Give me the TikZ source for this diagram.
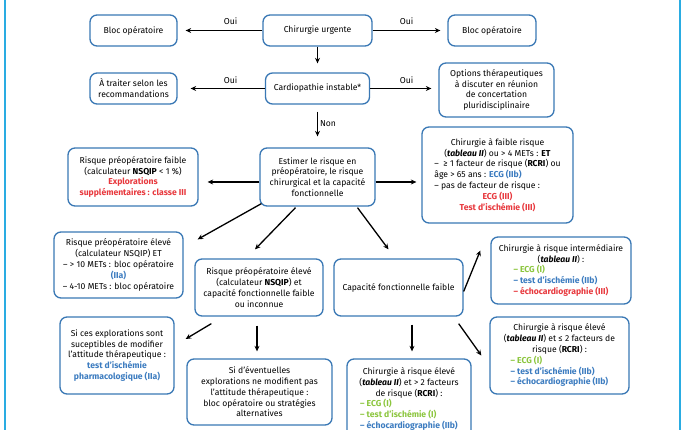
\documentclass[tikz,border=0pt]{standalone}
\usepackage{fontspec}
\setmainfont{Fira Sans}
\usetikzlibrary{arrows.meta,calc}
\definecolor{bord}{HTML}{3A78B5}
\definecolor{cyl}{HTML}{2AACE2}
\definecolor{rd}{HTML}{E8383D}
\definecolor{blu}{HTML}{3C7CC0}
\definecolor{grn}{HTML}{8CC63E}
\newcommand\redb[1]{\textcolor{rd}{\textbf{#1}}}
\newcommand\blub[1]{\textcolor{blu}{\textbf{#1}}}
\newcommand\grnb[1]{\textcolor{grn}{\textbf{#1}}}
\newlength\lw
\newcommand\setlw[1]{\settowidth\lw{#1}\global\lw=\lw}
\newcommand\LL[1]{\makebox[\lw][l]{#1}}
\tikzset{
  box/.style={draw=bord, line width=1.3pt, rounded corners=7pt, fill=white, align=center, inner sep=2pt, font=\fontsize{8.6}{10.8}\selectfont},
  arr/.style={-{Stealth[length=5.5pt,width=5pt]}, line width=1.3pt},
  lab/.style={font=\fontsize{8.6}{10}\selectfont, inner sep=0pt}
}
\begin{document}
\begin{tikzpicture}[x=1pt,y=-1pt]
\useasboundingbox (0,0) rectangle (686,430);
\clip (0,0) rectangle (686,430);
\fill[white] (0,0) rectangle (686,430);
\draw[cyl, line width=2.5pt] (5,0) -- (5,430);
\draw[cyl, line width=2.5pt] (680,0) -- (680,430);

\node[box, minimum width=87pt, minimum height=31pt] (bl1) at (133.5,30.5) {Bloc opératoire};
\node[box, minimum width=109pt, minimum height=31pt] (cu) at (317.5,30.5) {Chirurgie urgente};
\node[box, minimum width=88pt, minimum height=31pt] (bl2) at (492,30.5) {Bloc opératoire};
\node[box, minimum width=87pt, minimum height=31pt] (trt) at (133.5,88.5) {À traiter selon les\\recommandations};
\node[box, minimum width=104pt, minimum height=31pt] (ci) at (317.5,88.5) {Cardiopathie instable*};
\node[box, minimum width=115pt, minimum height=54pt] (opt) at (496.5,90) {Options thérapeutiques\\à discuter en réunion\\de concertation\\pluridisciplinaire};
\node[box, minimum width=115pt, minimum height=58pt] (est) at (317.5,177) {Estimer le risque en\\préopératoire, le risque\\chirurgical et la capacité\\fonctionnelle};
\node[box, minimum width=130pt, minimum height=58pt] (rpf) at (133,177) {Risque préopératoire faible\\(calculateur \textbf{NSQIP} < 1 \%)\\\redb{Explorations}\\\redb{supplémentaires : classe III}};
\node[box, minimum width=151pt, minimum height=96pt] (cfr) at (497.5,175) {\setlw{–\ \ ≥ 1 facteur de risque (\textbf{RCRI}) ou}%
Chirurgie à faible risque\\
(\textbf{\textit{tableau II}}) ou > 4 METs : \textbf{ET}\\
\LL{–\ \ ≥ 1 facteur de risque (\textbf{RCRI}) ou}\\
\LL{âge > 65 ans : \blub{ECG (IIb)}}\\
\LL{– pas de facteur de risque :}\\
\redb{ECG (III)}\\
\redb{Test d'ischémie (III)}};
\node[box, minimum width=129pt, minimum height=66pt] (rpe) at (118.5,265) {Risque préopératoire élevé\\(calculateur NSQIP) ET\\– > 10 METs : bloc opératoire\\\blub{(IIa)}\\– 4-10 METs : bloc opératoire};
\node[box, minimum width=128pt, minimum height=57pt] (rpe2) at (259,287.5) {Risque préopératoire élevé\\(calculateur \textbf{NSQIP}) et\\capacité fonctionnelle faible\\ou inconnue};
\node[box, minimum width=129pt, minimum height=57pt] (cff) at (398.5,287.5) {Capacité fonctionnelle faible};
\node[box, minimum width=140pt, minimum height=67pt] (cri) at (561,270.5) {\setlw{\textbf{– échocardiographie (III)}}%
Chirurgie à risque intermédiaire\\
(\textbf{\textit{tableau II}}) :\\
\LL{\grnb{– ECG (I)}}\\
\LL{\blub{– test d'ischémie (IIb)}}\\
\LL{\redb{– échocardiographie (III)}}};
\node[box, minimum width=139pt, minimum height=77pt] (cre1) at (559.5,355.5) {\setlw{\textbf{– échocardiographie (IIb)}}%
Chirurgie à risque élevé\\
(\textbf{\textit{tableau II}}) et ≤ 2 facteurs de\\
risque (\textbf{RCRI}) :\\
\LL{\grnb{– ECG (I)}}\\
\LL{\blub{– test d'ischémie (IIb)}}\\
\LL{\blub{– échocardiographie (IIb)}}};
\node[box, minimum width=114pt, minimum height=77pt] (sce) at (117,355.5) {Si ces explorations sont\\suceptibles de modifier\\l'attitude thérapeutique :\\\blub{test d'ischémie}\\\blub{pharmacologique (IIa)}};
\node[box, minimum width=145pt, minimum height=66pt] (sde) at (259.5,392) {Si d'éventuelles\\explorations ne modifient pas\\l'attitude thérapeutique :\\bloc opératoire ou stratégies\\alternatives};
\node[box, minimum width=124pt, minimum height=80pt] (cre2) at (409,399) {\setlw{\textbf{– échocardiographie (IIb)}}%
Chirurgie à risque élevé\\
(\textbf{\textit{tableau II}}) et > 2 facteurs\\
de risque (\textbf{RCRI}) :\\
\LL{\grnb{– ECG (I)}}\\
\LL{\grnb{– test d'ischémie (I)}}\\
\LL{\blub{– échocardiographie (IIb)}}};

\draw[arr, shorten >=8pt] (cu.west) -- (bl1.east);
\draw[arr, shorten >=7pt] (cu.east) -- (bl2.west);
\draw[arr, shorten >=9pt] (cu.south) -- (ci.north);
\draw[arr, shorten >=13pt] (ci.west) -- (trt.east);
\draw[arr, shorten >=7pt] (ci.east) -- (ci.east -| opt.west);
\draw[arr, shorten <=7pt, shorten >=11pt] (ci.south) -- (est.north);
\draw[arr, shorten >=9pt] ([yshift=-5pt]est.west) -- ([yshift=-5pt]est.west -| rpf.east);
\draw[arr, shorten >=5pt] ([yshift=-5pt]est.east) -- ([yshift=-5pt]est.east -| cfr.west);
\draw[arr] ($(est.south west)+(2,-3)$) -- ($(rpe.north east)+(14,8)$);
\draw[arr] ($(est.south)+(-22,1)$) -- ($(rpe2.north)+(-4,-9)$);
\draw[arr] ($(est.south)+(40,1)$) -- ($(cff.north)+(-10,-9)$);
\draw[arr] ($(cff.east)+(0,4)$) -- ($(cri.west)+(-10,-20)$);
\draw[arr] ($(cff.south)+(13.5,8)$) -- ($(cre2.north)+(3,-7)$);
\draw[arr] ($(cff.south east)+(-5,7)$) -- ($(cre1.west)+(-8,0)$);
\draw[arr] ($(rpe2.south west)+(17,7)$) -- ($(sce.east)+(11,-16.5)$);
\draw[arr] ($(rpe2.south)+(-2,9)$) -- ($(sde.north)+(-2.5,-7)$);

\node[lab] (o1) at (230.5,21) {Oui};
\node[lab] (o2) at (406.5,21) {Oui};
\node[lab] (o3) at (230.5,80) {Oui};
\node[lab] (o4) at (406.5,80) {Oui};
\node[lab] (non) at (328,124) {Non};
\end{tikzpicture}
\end{document}
